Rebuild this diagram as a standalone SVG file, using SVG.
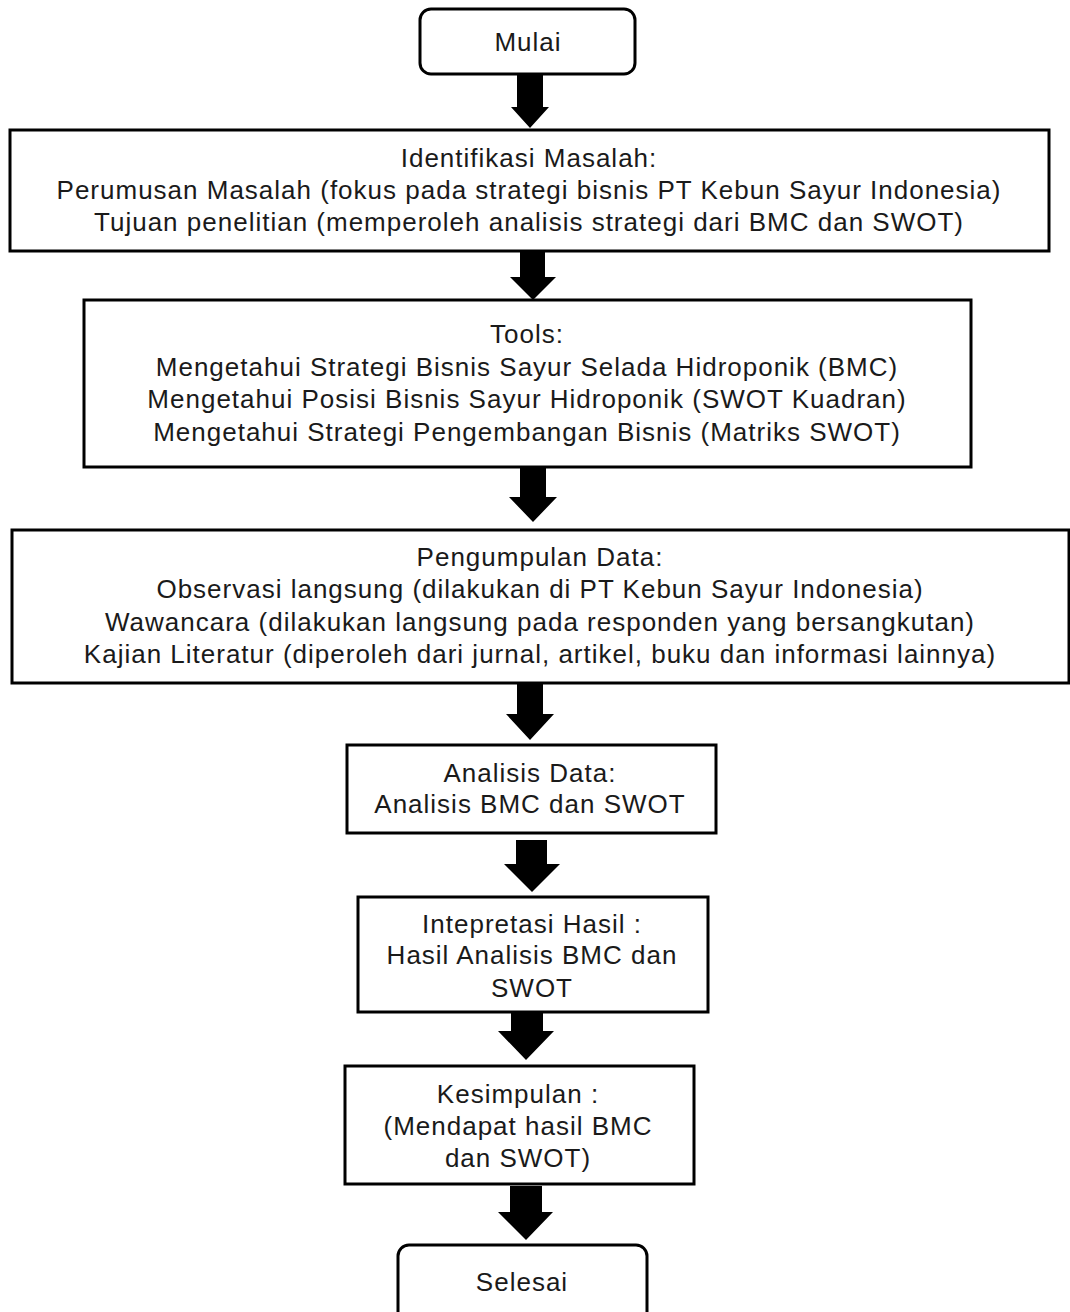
<svg xmlns="http://www.w3.org/2000/svg" width="1070" height="1312" viewBox="0 0 1070 1312">
<style>
.box{fill:#fff;stroke:#000;stroke-width:3}
.t{font-family:"Liberation Sans",Arial,sans-serif;font-size:26px;letter-spacing:1px;fill:#1a1a1a;text-anchor:middle}
.arr{fill:#000;stroke:none}
</style>
<rect width="1070" height="1312" fill="#fff"/>
<g id="mulai"><rect class="box" x="420" y="9" width="215" height="65" rx="11"/><text class="t" x="528" y="51">Mulai</text></g>
<g id="identifikasi"><rect class="box" x="10" y="130" width="1039" height="121"/>
<text class="t" x="529" y="167">Identifikasi Masalah:</text>
<text class="t" x="529" y="199">Perumusan Masalah (fokus pada strategi bisnis PT Kebun Sayur Indonesia)</text>
<text class="t" x="529" y="231">Tujuan penelitian (memperoleh analisis strategi dari BMC dan SWOT)</text></g>
<g id="tools"><rect class="box" x="84" y="300" width="887" height="167"/>
<text class="t" x="527" y="343">Tools:</text>
<text class="t" x="527" y="376">Mengetahui Strategi Bisnis Sayur Selada Hidroponik (BMC)</text>
<text class="t" x="527" y="408">Mengetahui Posisi Bisnis Sayur Hidroponik (SWOT Kuadran)</text>
<text class="t" x="527" y="441">Mengetahui Strategi Pengembangan Bisnis (Matriks SWOT)</text></g>
<g id="pengumpulan"><rect class="box" x="12" y="530" width="1057" height="153"/>
<text class="t" x="540" y="566">Pengumpulan Data:</text>
<text class="t" x="540" y="598">Observasi langsung (dilakukan di PT Kebun Sayur Indonesia)</text>
<text class="t" x="540" y="631">Wawancara (dilakukan langsung pada responden yang bersangkutan)</text>
<text class="t" x="540" y="663">Kajian Literatur (diperoleh dari jurnal, artikel, buku dan informasi lainnya)</text></g>
<g id="analisis"><rect class="box" x="347" y="745" width="369" height="88"/>
<text class="t" x="530" y="782">Analisis Data:</text>
<text class="t" x="530" y="813">Analisis BMC dan SWOT</text></g>
<g id="interpretasi"><rect class="box" x="358" y="897" width="350" height="115"/>
<text class="t" x="532" y="933">Intepretasi Hasil :</text>
<text class="t" x="532" y="964">Hasil Analisis BMC dan</text>
<text class="t" x="532" y="997">SWOT</text></g>
<g id="kesimpulan"><rect class="box" x="345" y="1066" width="349" height="118"/>
<text class="t" x="518" y="1103">Kesimpulan :</text>
<text class="t" x="518" y="1135">(Mendapat hasil BMC</text>
<text class="t" x="518" y="1167">dan SWOT)</text></g>
<g id="selesai"><rect class="box" x="398" y="1245" width="249" height="80" rx="11"/><text class="t" x="522" y="1291">Selesai</text></g>
<g id="connectors">
<polygon class="arr" points="517,75 543,75 543,107 549,107 530,128 511,107 517,107"/>
<polygon class="arr" points="520,252 545,252 545,277 556,277 533,300 510,277 520,277"/>
<polygon class="arr" points="520,468 546,468 546,497 557,497 533,522 509,497 520,497"/>
<polygon class="arr" points="517,684 543,684 543,714 554,714 530,740 506,714 517,714"/>
<polygon class="arr" points="516,840 547,840 547,864 560,864 532,892 504,864 516,864"/>
<polygon class="arr" points="511,1013 543,1013 543,1031 554,1031 526,1060 498,1031 511,1031"/>
<polygon class="arr" points="510,1186 542,1186 542,1212 553,1212 526,1240 498,1212 510,1212"/>
</g>
</svg>
